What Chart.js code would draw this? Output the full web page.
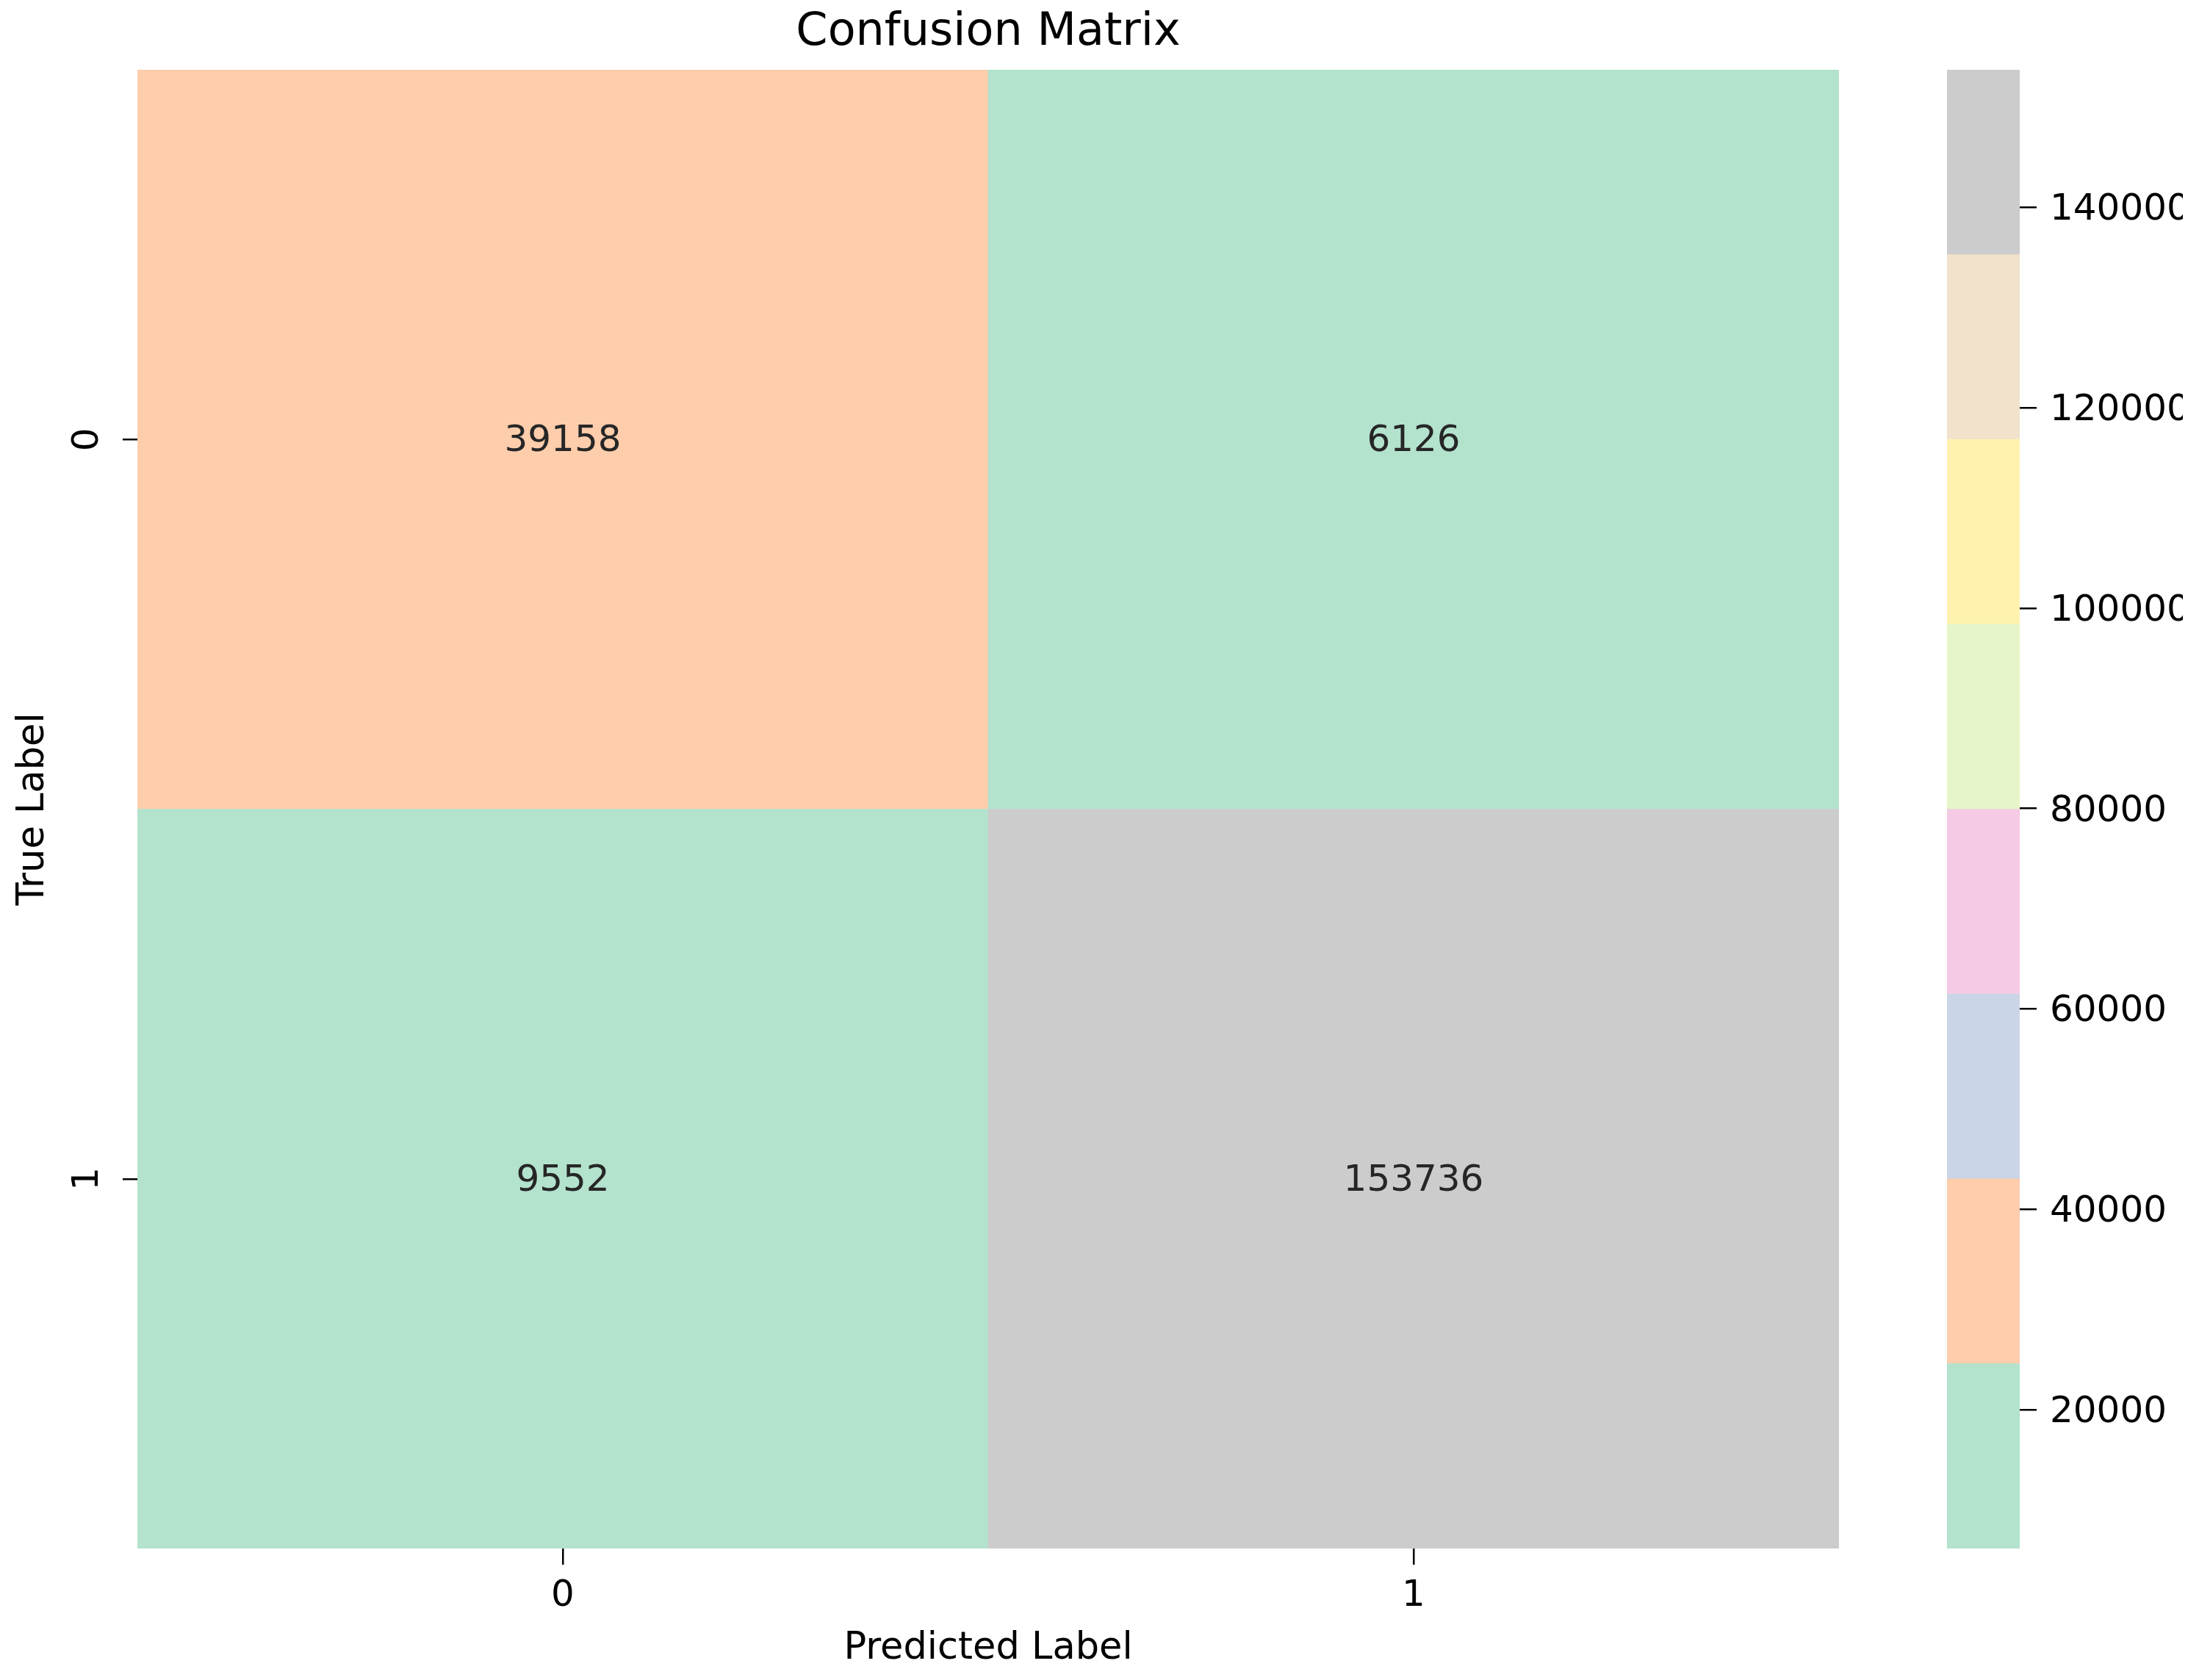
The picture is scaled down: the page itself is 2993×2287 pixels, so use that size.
<!DOCTYPE html>
<html>
<head>
<meta charset="utf-8">
<title>Confusion Matrix</title>
<script src="https://cdn.jsdelivr.net/npm/chart.js@4.4.1/dist/chart.umd.min.js"></script>
<style>
  body { margin: 0; background: #fff; }
  #heatmap { position: absolute; left: 0; top: 0; }
  #colorbar { position: absolute; left: 2650px; top: 0; }
</style>
</head>
<body>
<canvas id="heatmap" width="2503" height="2287"></canvas>
<canvas id="colorbar" width="321" height="2287"></canvas>
<script>
// Confusion matrix, rows = true label, columns = predicted label
var trueLabels = ['0', '1'];
var predLabels = ['0', '1'];
var row0 = [39158, 6126];
var row1 = [9552, 153736];
var matrix = [row0, row1];

// Pastel2 colormap, 8 discrete steps
var pastel2 = ['#b3e2cd', '#fdcdac', '#cbd5e8', '#f4cae4', '#e6f5c9', '#fff2ae', '#f1e2cc', '#cccccc'];
var colorbarTicks = [20000, 40000, 60000, 80000, 100000, 120000, 140000];

Chart.defaults.font.family = '"DejaVu Sans", sans-serif';
Chart.defaults.color = '#000';

// colour limits come from the data, like seaborn does
var allValues = row0.concat(row1);
var vmin = Math.min.apply(null, allValues);
var vmax = Math.max.apply(null, allValues);

// bin edges of the discrete colormap
var edges = [];
for (var i = 0; i <= pastel2.length; i++) {
    edges.push(vmin + (vmax - vmin) * i / pastel2.length);
}

function colorFor(v) {
    var idx = Math.floor((v - vmin) / (vmax - vmin) * pastel2.length);
    return pastel2[Math.min(idx, pastel2.length - 1)];
}

// Heatmap: one stacked dataset per row, bottom row first
var heatDatasets = matrix.map(function(row, r) {
    return {
        label: trueLabels[r],
        data: row.map(function() { return 1; }),
        values: row,
        backgroundColor: row.map(colorFor),
        borderWidth: 0,
        barPercentage: 1,
        categoryPercentage: 1
    };
}).reverse();

// Writes the count in the middle of each cell
var cellText = {
    id: 'cellText',
    afterDatasetsDraw: function(chart) {
        var ctx = chart.ctx;
        ctx.save();
        ctx.font = '50px "DejaVu Sans"';
        ctx.fillStyle = '#262626';
        ctx.textAlign = 'center';
        ctx.textBaseline = 'middle';
        chart.data.datasets.forEach(function(ds, i) {
            chart.getDatasetMeta(i).data.forEach(function(bar, j) {
                ctx.fillText(String(ds.values[j]), bar.x, (bar.y + bar.base) / 2 + 3);
            });
        });
        ctx.restore();
    }
};

new Chart(document.getElementById('heatmap').getContext('2d'), {
    type: 'bar',
    data: {
        labels: predLabels,
        datasets: heatDatasets
    },
    options: {
        responsive: false,
        animation: false,
        devicePixelRatio: 1,
        layout: { padding: 0 },
        plugins: {
            legend: { display: false },
            tooltip: { enabled: false },
            title: {
                display: true,
                fullSize: false,
                text: 'Confusion Matrix',
                color: '#000',
                font: { size: 62, weight: 'normal' },
                padding: { top: 8, bottom: 12.6 }
            }
        },
        scales: {
            x: {
                stacked: true,
                grid: { offset: false, drawOnChartArea: false, tickLength: 22, color: '#000', lineWidth: 2.5 },
                border: { display: false },
                ticks: { font: { size: 50 }, color: '#000', padding: 13, maxRotation: 0 },
                title: {
                    display: true,
                    text: 'Predicted Label',
                    color: '#000',
                    font: { size: 51 },
                    padding: { top: 0, bottom: 12 }
                },
                afterFit: function(scale) { scale.height = 179; }
            },
            y: {
                stacked: true,
                min: 0,
                max: 2,
                afterBuildTicks: function(scale) {
                    scale.ticks = [{ value: 0.5 }, { value: 1.5 }];
                },
                grid: { drawOnChartArea: false, tickLength: 20, color: '#000', lineWidth: 2.5 },
                border: { display: false },
                ticks: {
                    font: { size: 50 },
                    color: '#000',
                    padding: 31,
                    minRotation: 90,
                    maxRotation: 90,
                    crossAlign: 'center',
                    callback: function(v) { return trueLabels[Math.round(1.5 - v)]; }
                },
                title: {
                    display: true,
                    text: 'True Label',
                    color: '#000',
                    font: { size: 51 },
                    padding: { top: 15, bottom: 0 }
                },
                afterFit: function(scale) { scale.width = 187; }
            }
        }
    },
    plugins: [cellText]
});

// Colorbar: one floating bar per colour step
var cbDatasets = pastel2.map(function(c, i) {
    return {
        data: [[edges[i], edges[i + 1]]],
        backgroundColor: c,
        borderWidth: 0,
        barPercentage: 1,
        categoryPercentage: 1,
        grouped: false
    };
});

new Chart(document.getElementById('colorbar').getContext('2d'), {
    type: 'bar',
    data: {
        labels: [''],
        datasets: cbDatasets
    },
    options: {
        responsive: false,
        animation: false,
        devicePixelRatio: 1,
        layout: { padding: { top: 95, bottom: 179, left: 0, right: 0 } },
        plugins: {
            legend: { display: false },
            tooltip: { enabled: false }
        },
        scales: {
            x: { display: false },
            y: {
                position: 'right',
                min: vmin,
                max: vmax,
                afterBuildTicks: function(scale) {
                    scale.ticks = colorbarTicks.map(function(v) { return { value: v }; });
                },
                grid: { drawOnChartArea: false, tickLength: 23, color: '#000', lineWidth: 2.5 },
                border: { display: false },
                ticks: {
                    font: { size: 50 },
                    color: '#000',
                    padding: 18,
                    labelOffset: 4,
                    autoSkip: false,
                    callback: function(v) { return String(v); }
                },
                afterFit: function(scale) { scale.width = 222; }
            }
        }
    }
});
</script>
</body>
</html>
